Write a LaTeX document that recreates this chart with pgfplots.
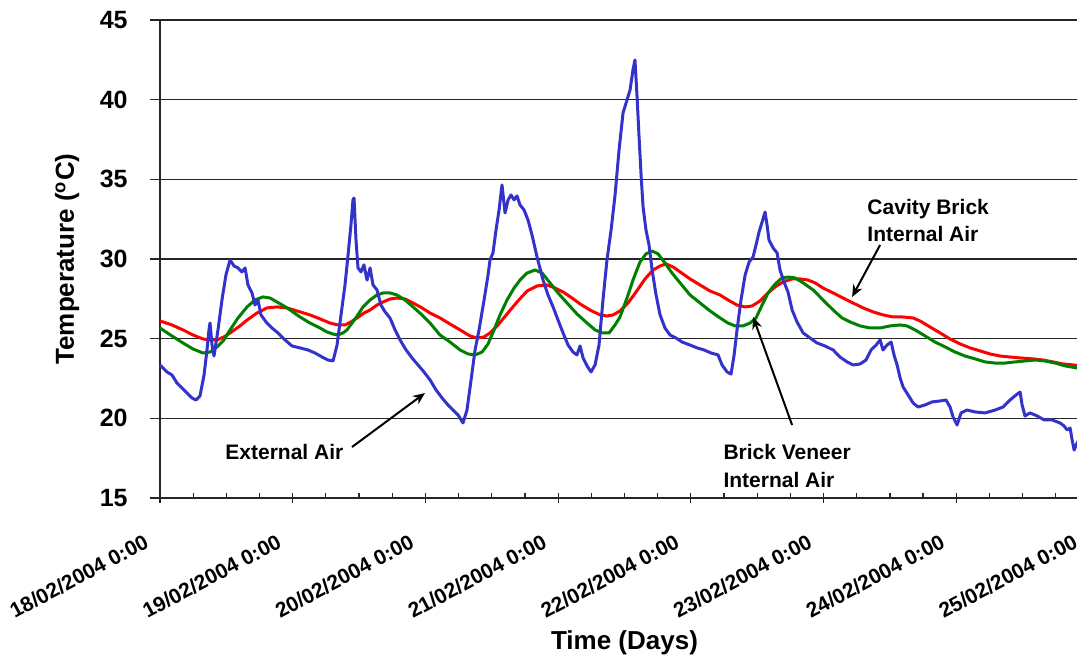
\documentclass[border=0pt]{standalone}
\usepackage{fontspec}
\setmainfont{Liberation Sans}
\usepackage{pgfplots}
\pgfplotsset{compat=1.18}
\usetikzlibrary{arrows.meta}
\definecolor{extblue}{RGB}{51,51,204}
\definecolor{cavred}{RGB}{255,0,0}
\definecolor{bvgreen}{RGB}{0,128,0}
\begin{document}
\begin{tikzpicture}
\begin{axis}[
  at={(80pt,79.5pt)}, anchor=south west,
  scale only axis, width=464.5pt, height=239pt,
  xmin=0, xmax=7, ymin=15, ymax=45,
  clip=false,
  axis x line*=bottom, axis y line*=left,
  axis line style={black!85, line width=0.7pt},
  xtick align=center, ytick align=outside,
  major tick length=5pt,
  tick style={black!85, line width=0.6pt},
  ytick={15,20,25,30,35,40,45},
  xtick={0,1,2,3,4,5,6,7},
  xticklabels={18/02/2004 0:00,19/02/2004 0:00,20/02/2004 0:00,21/02/2004 0:00,22/02/2004 0:00,23/02/2004 0:00,24/02/2004 0:00,25/02/2004 0:00},
  extra x ticks={0.25,0.5,0.75,1.25,1.5,1.75,2.25,2.5,2.75,3.25,3.5,3.75,4.25,4.5,4.75,5.25,5.5,5.75,6.25,6.5,6.75},
  extra x tick labels={},
  extra x tick style={xtick align=inside, major tick length=2.5pt},
  ymajorgrids,
  major grid style={black!85, line width=0.6pt},
  /pgf/number format/assume math mode=true,
  yticklabel style={font=\bfseries\fontsize{12.5pt}{14pt}\selectfont, anchor=east, inner sep=0pt, xshift=-11pt},
  xticklabel style={font=\bfseries\fontsize{10.5pt}{12pt}\selectfont, xshift=-8.5pt, yshift=-15pt, rotate=28, anchor=north east, inner sep=0pt},
  xlabel={Time (Days)},
  xlabel style={font=\bfseries\fontsize{13pt}{15pt}\selectfont, at={(axis description cs:0.5,-0.318)}, anchor=base, inner sep=0pt},
  ylabel={Temperature (\textsuperscript{o}C)},
  ylabel style={font=\bfseries\fontsize{13pt}{15pt}\selectfont, at={(axis description cs:-0.0926,0.5)}, anchor=base, inner sep=0pt},
]
% Cavity Brick Internal Air
\addplot[cavred, line width=1.5pt, line join=round] coordinates {
(0,26.11)(0.090,25.86)(0.173,25.55)(0.249,25.23)(0.324,24.98)(0.377,24.92)(0.430,24.92)(0.482,25.11)(0.528,25.36)(0.603,25.80)(0.656,26.17)(0.731,26.61)(0.806,26.93)(0.882,26.99)(0.957,26.93)(1.032,26.74)(1.130,26.49)(1.206,26.24)(1.281,25.98)(1.341,25.86)(1.394,25.86)(1.439,26.05)(1.485,26.30)(1.537,26.61)(1.583,26.80)(1.635,27.11)(1.680,27.30)(1.733,27.49)(1.786,27.55)(1.846,27.49)(1.907,27.24)(1.974,26.93)(2.035,26.61)(2.110,26.30)(2.185,25.92)(2.261,25.55)(2.336,25.17)(2.389,25.04)(2.442,25.11)(2.487,25.36)(2.547,25.86)(2.615,26.55)(2.690,27.30)(2.766,27.99)(2.841,28.31)(2.916,28.37)(2.977,28.18)(3.037,27.93)(3.105,27.55)(3.165,27.18)(3.240,26.80)(3.316,26.49)(3.368,26.42)(3.414,26.49)(3.466,26.74)(3.527,27.24)(3.587,27.93)(3.655,28.75)(3.715,29.31)(3.768,29.56)(3.813,29.69)(3.866,29.50)(3.919,29.19)(3.994,28.75)(4.069,28.37)(4.145,27.99)(4.220,27.74)(4.280,27.43)(4.348,27.11)(4.409,26.99)(4.461,27.05)(4.522,27.37)(4.574,27.81)(4.635,28.25)(4.695,28.56)(4.763,28.75)(4.823,28.75)(4.883,28.68)(4.936,28.50)(4.996,28.18)(5.072,27.87)(5.147,27.55)(5.222,27.24)(5.298,26.93)(5.373,26.68)(5.448,26.49)(5.524,26.36)(5.599,26.36)(5.675,26.30)(5.727,26.11)(5.803,25.73)(5.878,25.36)(5.953,24.98)(6.029,24.67)(6.104,24.42)(6.179,24.23)(6.255,24.04)(6.330,23.91)(6.405,23.85)(6.481,23.79)(6.579,23.73)(6.654,23.66)(6.729,23.54)(6.805,23.41)(6.880,23.35)(6.933,23.29)
};
% Brick Veneer Internal Air
\addplot[bvgreen, line width=1.5pt, line join=round] coordinates {
(0,25.67)(0.090,25.17)(0.173,24.73)(0.249,24.35)(0.324,24.10)(0.377,24.16)(0.430,24.48)(0.482,24.92)(0.528,25.55)(0.588,26.30)(0.656,26.99)(0.716,27.43)(0.776,27.62)(0.829,27.55)(0.882,27.30)(0.934,27.05)(0.980,26.80)(1.055,26.36)(1.130,25.98)(1.206,25.67)(1.258,25.42)(1.304,25.29)(1.341,25.23)(1.379,25.36)(1.409,25.55)(1.447,25.98)(1.485,26.42)(1.530,26.99)(1.583,27.43)(1.635,27.74)(1.680,27.87)(1.733,27.87)(1.786,27.74)(1.846,27.43)(1.907,26.99)(1.974,26.49)(2.035,25.98)(2.110,25.23)(2.185,24.79)(2.261,24.29)(2.321,24.04)(2.374,23.98)(2.427,24.16)(2.472,24.67)(2.517,25.55)(2.562,26.49)(2.615,27.43)(2.668,28.18)(2.713,28.68)(2.766,29.12)(2.826,29.31)(2.879,29.12)(2.939,28.50)(2.999,27.87)(3.067,27.24)(3.142,26.55)(3.218,25.98)(3.278,25.55)(3.331,25.36)(3.384,25.36)(3.429,25.86)(3.466,26.36)(3.519,27.55)(3.564,28.68)(3.617,29.81)(3.662,30.32)(3.708,30.50)(3.753,30.32)(3.805,29.75)(3.858,29.12)(3.919,28.50)(3.994,27.74)(4.069,27.24)(4.145,26.74)(4.220,26.30)(4.280,25.98)(4.333,25.80)(4.393,25.80)(4.446,25.98)(4.491,26.30)(4.537,27.11)(4.582,27.87)(4.635,28.43)(4.687,28.81)(4.732,28.87)(4.785,28.81)(4.846,28.50)(4.921,28.06)(4.996,27.43)(5.072,26.80)(5.139,26.30)(5.200,26.05)(5.275,25.80)(5.350,25.67)(5.426,25.67)(5.501,25.80)(5.577,25.86)(5.629,25.80)(5.690,25.55)(5.765,25.17)(5.840,24.79)(5.916,24.48)(5.991,24.16)(6.066,23.91)(6.142,23.73)(6.217,23.54)(6.292,23.47)(6.368,23.47)(6.443,23.54)(6.518,23.60)(6.594,23.66)(6.669,23.60)(6.745,23.47)(6.820,23.29)(6.910,23.16)(6.933,23.10)
};
% External Air
\addplot[extblue, line width=1.5pt, line join=round] coordinates {
(0,23.35)(0.053,22.91)(0.090,22.72)(0.128,22.22)(0.166,21.90)(0.203,21.59)(0.241,21.28)(0.271,21.15)(0.301,21.40)(0.332,22.72)(0.354,24.29)(0.369,25.55)(0.377,25.98)(0.392,24.60)(0.407,23.91)(0.437,25.55)(0.467,27.43)(0.497,29.00)(0.528,29.94)(0.558,29.56)(0.588,29.44)(0.618,29.19)(0.641,29.44)(0.663,28.37)(0.693,27.87)(0.716,27.11)(0.738,27.43)(0.761,26.49)(0.799,26.05)(0.844,25.67)(0.889,25.36)(0.942,24.92)(0.995,24.54)(1.055,24.42)(1.115,24.29)(1.168,24.10)(1.221,23.85)(1.266,23.66)(1.304,23.60)(1.334,24.60)(1.364,26.49)(1.394,28.37)(1.417,30.25)(1.439,32.14)(1.454,33.71)(1.462,33.83)(1.477,31.19)(1.492,29.44)(1.515,29.19)(1.537,29.63)(1.560,28.68)(1.583,29.44)(1.605,28.37)(1.635,28.06)(1.665,27.11)(1.696,26.68)(1.733,26.30)(1.771,25.55)(1.809,24.92)(1.854,24.29)(1.899,23.79)(1.944,23.35)(1.989,22.91)(2.035,22.41)(2.080,21.78)(2.125,21.28)(2.170,20.84)(2.208,20.52)(2.246,20.21)(2.283,19.71)(2.313,20.52)(2.344,22.41)(2.374,24.29)(2.404,25.55)(2.442,27.43)(2.472,29.00)(2.487,29.94)(2.509,30.38)(2.532,31.82)(2.555,33.08)(2.577,34.65)(2.600,32.89)(2.623,33.71)(2.645,34.02)(2.668,33.71)(2.690,33.96)(2.713,33.39)(2.743,33.08)(2.773,32.45)(2.803,31.51)(2.841,30.13)(2.886,28.68)(2.924,27.74)(2.962,26.99)(2.999,26.17)(3.037,25.36)(3.075,24.60)(3.112,24.16)(3.142,23.98)(3.165,24.54)(3.188,23.79)(3.218,23.29)(3.248,22.91)(3.278,23.35)(3.308,24.60)(3.338,27.43)(3.368,29.94)(3.399,31.82)(3.429,34.02)(3.459,36.84)(3.489,39.17)(3.519,39.98)(3.542,40.61)(3.564,41.87)(3.579,42.49)(3.594,40.30)(3.609,37.79)(3.625,35.27)(3.640,33.27)(3.662,31.82)(3.685,30.88)(3.708,29.31)(3.738,27.74)(3.768,26.49)(3.805,25.67)(3.843,25.23)(3.888,25.04)(3.934,24.79)(3.994,24.60)(4.047,24.42)(4.100,24.29)(4.152,24.10)(4.205,23.98)(4.235,23.35)(4.273,22.91)(4.303,22.78)(4.326,23.98)(4.348,25.55)(4.378,27.43)(4.409,29.00)(4.439,29.81)(4.469,30.13)(4.491,30.88)(4.514,31.70)(4.537,32.32)(4.559,32.95)(4.574,32.14)(4.589,31.19)(4.620,30.69)(4.650,30.38)(4.672,29.31)(4.702,28.56)(4.732,27.93)(4.763,26.80)(4.800,26.05)(4.846,25.36)(4.898,25.04)(4.951,24.73)(5.011,24.54)(5.072,24.29)(5.124,23.85)(5.177,23.54)(5.222,23.35)(5.275,23.41)(5.320,23.66)(5.358,24.29)(5.396,24.60)(5.426,24.92)(5.448,24.29)(5.478,24.60)(5.509,24.79)(5.531,23.98)(5.554,23.35)(5.577,22.53)(5.599,21.97)(5.637,21.47)(5.675,20.96)(5.712,20.71)(5.765,20.84)(5.818,21.03)(5.878,21.09)(5.923,21.15)(5.953,20.71)(5.976,20.08)(6.006,19.58)(6.036,20.34)(6.081,20.52)(6.142,20.40)(6.217,20.34)(6.292,20.52)(6.353,20.71)(6.405,21.15)(6.451,21.47)(6.481,21.65)(6.496,20.84)(6.518,20.15)(6.556,20.34)(6.609,20.15)(6.662,19.90)(6.722,19.90)(6.782,19.71)(6.812,19.52)(6.835,19.27)(6.858,19.39)(6.873,18.64)(6.888,18.01)(6.910,18.45)(6.933,18.77)
};
% annotations
\node[anchor=base west, inner sep=0pt, font=\bfseries\fontsize{10.5pt}{12pt}\selectfont] at (axis cs:0.49,17.39) {External Air};
\draw[-{Stealth[length=6pt,width=5pt]}, line width=1pt] (axis cs:1.447,18.2) -- (axis cs:1.997,21.59);
\node[anchor=base west, inner sep=0pt, font=\bfseries\fontsize{10.5pt}{12pt}\selectfont] at (axis cs:5.328,32.77) {Cavity Brick};
\node[anchor=base west, inner sep=0pt, font=\bfseries\fontsize{10.5pt}{12pt}\selectfont] at (axis cs:5.328,31.07) {Internal Air};
\draw[-{Stealth[length=6pt,width=5pt]}, line width=1pt] (axis cs:5.426,30.88) -- (axis cs:5.215,27.62);
\node[anchor=base west, inner sep=0pt, font=\bfseries\fontsize{10.5pt}{12pt}\selectfont] at (axis cs:4.243,17.39) {Brick Veneer};
\node[anchor=base west, inner sep=0pt, font=\bfseries\fontsize{10.5pt}{12pt}\selectfont] at (axis cs:4.243,15.63) {Internal Air};
\draw[-{Stealth[length=6pt,width=5pt]}, line width=1pt] (axis cs:4.763,19.58) -- (axis cs:4.469,26.36);
\end{axis}
\pgfresetboundingbox
\path[use as bounding box] (0,0) rectangle (538.5pt,328.5pt);
\end{tikzpicture}
\end{document}
